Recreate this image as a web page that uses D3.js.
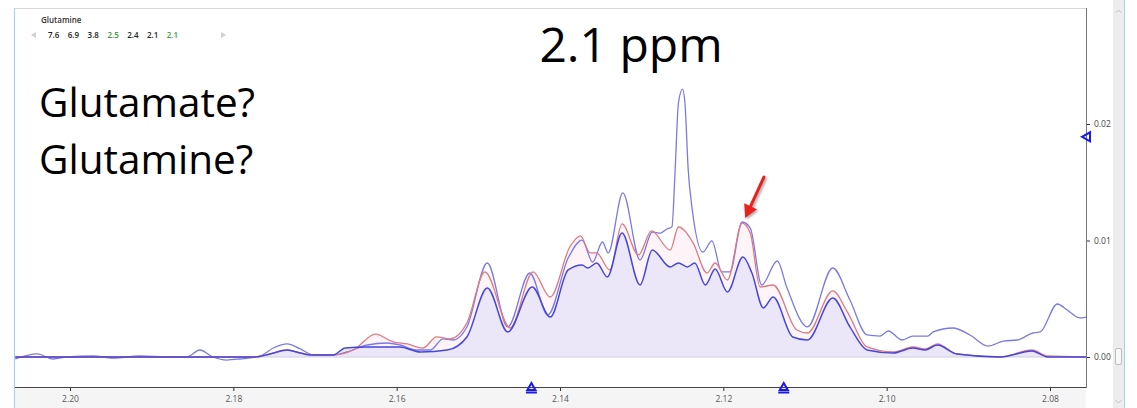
<!DOCTYPE html>
<html>
<head>
<meta charset="utf-8">
<script src="https://cdn.jsdelivr.net/npm/d3@7"></script>
<style>
  body { margin: 0; background: #fff; }
  svg { display: block; }
</style>
</head>
<body>
<svg id="chart" width="1137" height="408"></svg>
<script>
// ---- spectra (chemical shift in ppm, intensity) ----
const darkPpm = [2.2067, 2.1900, 2.1773, 2.1755, 2.1734, 2.1718, 2.1706, 2.1678, 2.1663, 2.1636, 2.1596, 2.1571, 2.1538, 2.1514,
  2.1489, 2.1464, 2.1434, 2.1412, 2.1390, 2.1373, 2.1366, 2.1355, 2.1342, 2.1324, 2.1302, 2.1287, 2.1265, 2.1255, 2.1244, 2.1235,
  2.1222, 2.1210, 2.1195, 2.1176, 2.1165, 2.1151, 2.1139, 2.1115, 2.1097, 2.1066, 2.1045, 2.1024, 2.0992, 2.0968, 2.0953, 2.0938,
  2.0914, 2.0861, 2.0822, 2.0803, 2.0756];
const darkVal = [0, 0, 0, 0.00026, 0.0006, 0.00034, 0.00017, 0.00017, 0.00077, 0.00086, 0.00086, 0.00043, 0.0006, 0.00172,
  0.00592, 0.00215, 0.00601, 0.00343, 0.00747, 0.0079, 0.00764, 0.00807, 0.00687, 0.01064, 0.00618, 0.00918, 0.00773, 0.00807, 0.00773, 0.00807,
  0.00618, 0.00755, 0.00558, 0.00858, 0.00721, 0.00421, 0.00515, 0.00172, 0.00146, 0.00506, 0.00258, 0.0006, 0.00034, 0.00077, 0.0006, 0.00103,
  0.00026, 0.00001, 0.00052, 0, 0];

const redPpm = [2.2067, 2.1773, 2.1755, 2.1734, 2.1718, 2.1697, 2.1678, 2.1653, 2.1626, 2.1604, 2.1587, 2.1568, 2.1551, 2.1535, 2.1514,
  2.1492, 2.1461, 2.1433, 2.1412, 2.1388, 2.1375, 2.1363, 2.1355, 2.1339, 2.1324, 2.1304, 2.1288, 2.1265, 2.1255, 2.1237, 2.1220,
  2.1210, 2.1195, 2.1177, 2.1167, 2.1155, 2.1139, 2.1110, 2.1097, 2.1066, 2.1048, 2.1024, 2.0992, 2.0968, 2.0953, 2.0938, 2.0914,
  2.0861, 2.0822, 2.0803, 2.0756];
const redVal = [0, 0, 0.00026, 0.0006, 0.00034, 0.00017, 0.00017, 0.0006, 0.00197, 0.00129, 0.00112, 0.00077, 0.00172, 0.00155, 0.00292,
  0.0073, 0.00249, 0.0073, 0.00515, 0.00944, 0.01039, 0.00893, 0.00893, 0.00747, 0.01142, 0.00876, 0.01082, 0.00918, 0.01116, 0.00979, 0.00721,
  0.00807, 0.00661, 0.0115, 0.01064, 0.00601, 0.00618, 0.00232, 0.00206, 0.00567, 0.00386, 0.00086, 0.00043, 0.00086, 0.00069, 0.00112, 0.00026,
  0, 0.0006, 0.00009, 0];

const lightPpm = [2.2067, 2.2040, 2.2021, 2.2004, 2.1972, 2.1947, 2.1914, 2.1878, 2.1857, 2.1841, 2.1825, 2.1808, 2.1792, 2.1767,
  2.1751, 2.1734, 2.1718, 2.1702, 2.1678, 2.1661, 2.1636, 2.1612, 2.1596, 2.1575, 2.1559, 2.1543, 2.1531, 2.1514,
  2.1489, 2.1464, 2.1437, 2.1415, 2.1390, 2.1373, 2.1360, 2.1348, 2.1341, 2.1323, 2.1302, 2.1287, 2.1277, 2.1269, 2.1263,
  2.1259, 2.1255, 2.1250, 2.1247, 2.1243, 2.1238, 2.1225, 2.1214, 2.1202, 2.1192, 2.1177, 2.1167, 2.1153, 2.1134, 2.1122,
  2.1097, 2.1066, 2.1045, 2.1024, 2.1008, 2.0998, 2.0981, 2.0968, 2.0950, 2.0943, 2.0919, 2.0898, 2.0876, 2.0857, 2.0840,
  2.0821, 2.0812, 2.0791, 2.0779, 2.0763, 2.0756];
const lightVal = [-0.00017, 0.00026, -0.00017, 0, 0.00009, -0.00009, 0.00009, 0, 0, 0.0006, 0, -0.00026, -0.00017, 0.00009,
  0.00077, 0.00112, 0.00069, 0.00017, 0.00017, 0.00043, 0.00103, 0.0012, 0.00103, 0.0006, 0.0006, 0.00155, 0.00146, 0.00258,
  0.00807, 0.00258, 0.00721, 0.00361, 0.0085, 0.01004, 0.00815, 0.00987, 0.00893, 0.01408, 0.00833, 0.01073, 0.01064, 0.01099, 0.01116,
  0.01605, 0.0218, 0.0230, 0.0218, 0.01605, 0.01262, 0.00901, 0.00996, 0.0073, 0.0073, 0.01159, 0.01107, 0.00618, 0.00824, 0.00592,
  0.00258, 0.00764, 0.00489, 0.00189, 0.0018, 0.00223, 0.00146, 0.0018, 0.0018, 0.00215, 0.00249, 0.00189, 0.00094, 0.00137, 0.00146,
  0.00206, 0.00215, 0.00455, 0.00403, 0.00335, 0.00343];

// ---- axes ----
const xTicks = [2.20, 2.18, 2.16, 2.14, 2.12, 2.10, 2.08];
const yTicks = [0.00, 0.01, 0.02];

// ---- legend row ----
const legendTitle = "Glutamine";
const legendItems = ["7.6", "6.9", "3.8", "2.5", "2.4", "2.1", "2.1"];
const legendGreen = [false, false, false, true, false, false, true];

// ---- cursor markers ----
const xMarkers = [2.1435, 2.1126];
const yMarkers = [0.0189];

// ---- annotations ----
const titleText = "2.1 ppm";
const questionLines = ["Glutamate?", "Glutamine?"];
const arrowTarget = { ppm: 2.1177, value: 0.0115 };

// ================= drawing =================
const W = 1137, H = 408;
const plot = { left: 15, right: 1086, top: 8, bottom: 387 };

const svg = d3.select("#chart");

const x = d3.scaleLinear().domain([2.20, 2.08]).range([70, 1050]);
const y = d3.scaleLinear().domain([0, 0.02]).range([357, 124]);

const toPts = (p, v) => p.map((d, i) => ({ p: d, v: v[i] }));
const dark = toPts(darkPpm, darkVal);
const red = toPts(redPpm, redVal);
const light = toPts(lightPpm, lightVal);

const defs = svg.append("defs");
defs.append("clipPath").attr("id", "plotClip")
  .append("rect")
  .attr("x", plot.left).attr("y", plot.top)
  .attr("width", plot.right - plot.left).attr("height", plot.bottom - plot.top);

const shadow = defs.append("filter").attr("id", "arrowShadow")
  .attr("x", "-50%").attr("y", "-50%").attr("width", "200%").attr("height", "200%");
shadow.append("feDropShadow").attr("dx", 1.5).attr("dy", 1.5).attr("stdDeviation", 1.2)
  .attr("flood-color", "#000").attr("flood-opacity", 0.35);

// backgrounds
svg.append("rect").attr("width", W).attr("height", H).attr("fill", "#fff");
svg.append("rect").attr("x", plot.left).attr("y", plot.bottom)
  .attr("width", plot.right - plot.left).attr("height", H - plot.bottom).attr("fill", "#f5f5f5");

// scrollbar on the right
svg.append("rect").attr("x", 1113).attr("y", 0).attr("width", 11).attr("height", H).attr("fill", "#ededed");
svg.append("path").attr("d", "M1115.5,13 L1118.5,10 L1121.5,13").attr("fill", "none").attr("stroke", "#b8b8b8").attr("stroke-width", 0.8);
svg.append("path").attr("d", "M1115.5,400 L1118.5,403 L1121.5,400").attr("fill", "none").attr("stroke", "#b8b8b8").attr("stroke-width", 0.8);
svg.append("rect").attr("x", 1115.5).attr("y", 348.5).attr("width", 6).attr("height", 16).attr("rx", 1.5)
  .attr("fill", "#f8f8f8").attr("stroke", "#b0b0b0").attr("stroke-width", 0.8);
svg.append("line").attr("x1", 1124.5).attr("x2", 1124.5).attr("y1", 0).attr("y2", H)
  .attr("stroke", "#9fd3e6").attr("stroke-width", 1);

// frame
svg.append("line").attr("x1", plot.left).attr("x2", plot.right).attr("y1", plot.top + 0.5).attr("y2", plot.top + 0.5)
  .attr("stroke", "#d8d8d8");
svg.append("line").attr("x1", plot.left - 0.5).attr("x2", plot.left - 0.5).attr("y1", plot.top).attr("y2", H)
  .attr("stroke", "#9fd8ea").attr("stroke-width", 1.2);

// spectra
const g = svg.append("g").attr("clip-path", "url(#plotClip)");

const area = d3.area().x(d => x(d.p)).y0(y(0)).y1(d => y(d.v)).curve(d3.curveMonotoneX);
const line = d3.line().x(d => x(d.p)).y(d => y(d.v)).curve(d3.curveMonotoneX);

g.append("path").datum(red).attr("d", area).attr("fill", "#fcf4f6");
g.append("path").datum(dark).attr("d", area).attr("fill", "#ebe7f8");
g.append("line").attr("x1", plot.left).attr("x2", plot.right).attr("y1", y(0)).attr("y2", y(0))
  .attr("stroke", "#cfcbe4").attr("stroke-width", 1);

g.append("path").datum(light).attr("d", line).attr("fill", "none")
  .attr("stroke", "#7a7ae6").attr("stroke-width", 1.3);
g.append("path").datum(red).attr("d", line).attr("fill", "none")
  .attr("stroke", "#e07a80").attr("stroke-width", 1.3);
g.append("path").datum(dark).attr("d", line).attr("fill", "none")
  .attr("stroke", "#4646dc").attr("stroke-width", 1.5);

// x axis
const xAxis = d3.axisBottom(x).tickValues(xTicks).tickFormat(d3.format(".2f")).tickSize(4).tickSizeOuter(0);
const xg = svg.append("g").attr("transform", `translate(0,${plot.bottom})`).call(xAxis);
xg.select(".domain").remove();
xg.selectAll(".tick line").attr("stroke", "#333");
xg.selectAll(".tick text").attr("fill", "#555").attr("font-family", "Open Sans, sans-serif").attr("font-size", 8.5).attr("dy", "0.9em");
svg.append("line").attr("x1", plot.left).attr("x2", plot.right + 1).attr("y1", plot.bottom + 0.5).attr("y2", plot.bottom + 0.5)
  .attr("stroke", "#444").attr("stroke-width", 1);

// y axis on the right
const yAxis = d3.axisRight(y).tickValues(yTicks).tickFormat(d3.format(".2f")).tickSize(4).tickSizeOuter(0);
const yg = svg.append("g").attr("transform", `translate(${plot.right},0)`).call(yAxis);
yg.select(".domain").remove();
yg.selectAll(".tick line").attr("stroke", "#333");
yg.selectAll(".tick text").attr("fill", "#444").attr("font-family", "Open Sans, sans-serif").attr("font-size", 8.5).attr("x", 8);
svg.append("line").attr("x1", plot.right + 0.5).attr("x2", plot.right + 0.5).attr("y1", plot.top).attr("y2", plot.bottom + 1)
  .attr("stroke", "#777").attr("stroke-width", 1);

// cursor markers
const mk = svg.append("g").attr("fill", "none").attr("stroke", "#1a1ae6").attr("stroke-width", 2);
xMarkers.forEach(p => {
  const cx = x(p);
  mk.append("path").attr("d", `M${cx - 4},${plot.bottom + 3} L${cx},${plot.bottom - 4} L${cx + 4},${plot.bottom + 3} Z`);
  mk.append("line").attr("x1", cx - 5.5).attr("x2", cx + 5.5).attr("y1", plot.bottom + 5.5).attr("y2", plot.bottom + 5.5);
});
yMarkers.forEach(v => {
  const cy = y(v);
  mk.append("path").attr("d", `M${plot.right - 4},${cy} L${plot.right + 4},${cy - 4.5} L${plot.right + 4},${cy + 4.5} Z`);
});

// legend
const lg = svg.append("g").attr("font-family", "Open Sans, sans-serif");
lg.append("text").attr("x", 41).attr("y", 23).attr("font-size", 8).attr("font-weight", 600).attr("fill", "#333").text(legendTitle);
lg.append("path").attr("d", "M36,32 L31,35 L36,38 Z").attr("fill", "#d0d0d0");
legendItems.forEach((t, i) => {
  lg.append("text").attr("x", 48 + i * 19.8).attr("y", 38).attr("font-size", 8).attr("font-weight", 600)
    .attr("fill", legendGreen[i] ? "#3c9a3c" : "#222").text(t);
});
lg.append("path").attr("d", "M221,32 L226,35 L221,38 Z").attr("fill", "#d0d0d0");

// titles
svg.append("text").attr("x", 631).attr("y", 62).attr("text-anchor", "middle")
  .attr("font-family", "Open Sans, sans-serif").attr("font-size", 48).attr("fill", "#000").text(titleText);
questionLines.forEach((t, i) => {
  svg.append("text").attr("x", 39).attr("y", 117 + i * 57)
    .attr("font-family", "Open Sans, sans-serif").attr("font-size", 40.5).attr("fill", "#000").text(t);
});

// arrow pointing at the peak
const tipX = x(arrowTarget.ppm) + 3, tipY = y(arrowTarget.value) - 5;
const ang = Math.atan2(tipY - 177, tipX - 764);
const ux = Math.cos(ang), uy = Math.sin(ang);
const headLen = 13, headW = 7;
const bx = tipX - ux * headLen, by = tipY - uy * headLen;
const arrow = svg.append("g").attr("filter", "url(#arrowShadow)");
arrow.append("line").attr("x1", 764).attr("y1", 177).attr("x2", bx + ux * 2).attr("y2", by + uy * 2)
  .attr("stroke", "#e8231c").attr("stroke-width", 3).attr("stroke-linecap", "round");
arrow.append("path")
  .attr("d", `M${tipX},${tipY} L${bx - uy * headW},${by + ux * headW} L${bx + uy * headW},${by - ux * headW} Z`)
  .attr("fill", "#e8231c");
</script>
</body>
</html>
